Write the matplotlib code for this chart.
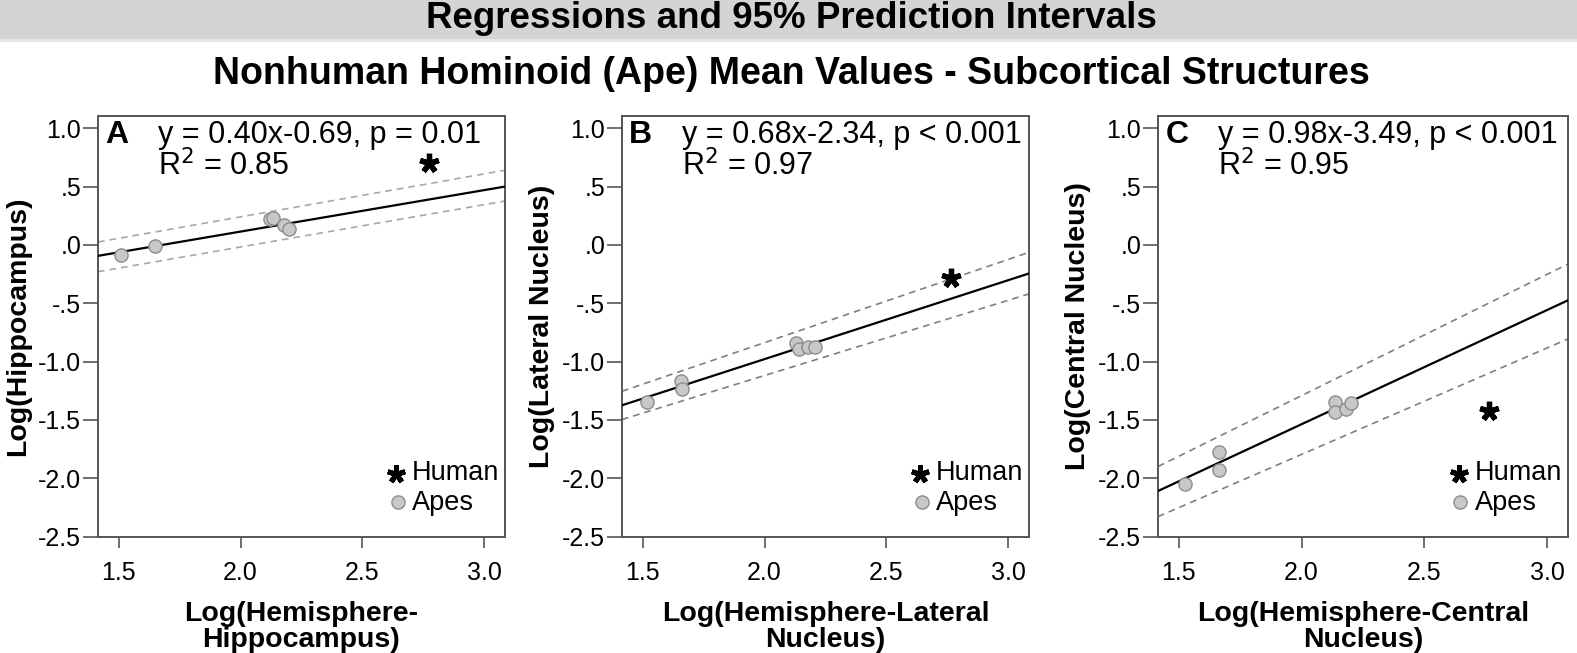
import numpy as np
import matplotlib
matplotlib.use("Agg")
import matplotlib.pyplot as plt
from matplotlib.patches import Rectangle

plt.rcParams['font.family'] = ['Liberation Sans', 'DejaVu Sans']

# x range used for the fitted lines (edges of the plot)
line_x = [1.415, 3.085]

# Panel A - hippocampus
apes_x_a = [1.51, 1.65, 2.12, 2.135, 2.18, 2.20]
apes_y_a = [-0.09, -0.01, 0.22, 0.23, 0.17, 0.14]
human_a = [2.775, 0.70]
fit_a = [-0.094, 0.50]
upper_a = [0.025, 0.64]
lower_a = [-0.23, 0.376]

# Panel B - lateral nucleus
apes_x_b = [1.516, 1.657, 1.66, 2.129, 2.14, 2.18, 2.207]
apes_y_b = [-1.345, -1.164, -1.233, -0.84, -0.89, -0.876, -0.876]
human_b = [2.765, -0.28]
fit_b = [-1.375, -0.245]
upper_b = [-1.255, -0.064]
lower_b = [-1.497, -0.42]

# Panel C - central nucleus
apes_x_c = [1.524, 1.665, 1.665, 2.136, 2.134, 2.18, 2.20]
apes_y_c = [-2.05, -1.776, -1.927, -1.345, -1.436, -1.41, -1.355]
human_c = [2.763, -1.42]
fit_c = [-2.11, -0.475]
upper_c = [-1.9, -0.164]
lower_c = [-2.33, -0.806]

letters = ['A', 'B', 'C']
equations = ['y = 0.40x-0.69, p = 0.01', 'y = 0.68x-2.34, p < 0.001', 'y = 0.98x-3.49, p < 0.001']
r2_texts = ['R$^2$ = 0.85', 'R$^2$ = 0.97', 'R$^2$ = 0.95']
ylabels = ['Log(Hippocampus)', 'Log(Lateral Nucleus)', 'Log(Central Nucleus)']
xlabels = ['Log(Hemisphere-\nHippocampus)', 'Log(Hemisphere-Lateral\nNucleus)', 'Log(Hemisphere-Central\nNucleus)']

yticks = [1.0, 0.5, 0.0, -0.5, -1.0, -1.5, -2.0, -2.5]
ytick_labels = ['1.0', '.5', '.0', '-.5', '-1.0', '-1.5', '-2.0', '-2.5']
xticks = [1.5, 2.0, 2.5, 3.0]
xtick_labels = ['1.5', '2.0', '2.5', '3.0']

STAR = (5, 2, 0)
APE_FACE = '#c8c8c8'
APE_EDGE = '#8c8c8c'


def plot_panel(ax, i, ax_x, ax_y, human, fit, upper, lower, dash_color):
    ax.plot(line_x, upper, color=dash_color, lw=1.2, ls=(0, (4, 3)), zorder=2)
    ax.plot(line_x, lower, color=dash_color, lw=1.2, ls=(0, (4, 3)), zorder=2)
    ax.plot(line_x, fit, color='black', lw=1.6, zorder=3)
    ax.scatter(ax_x, ax_y, s=90, facecolor=APE_FACE, edgecolor=APE_EDGE, lw=1.0, zorder=4)
    ax.plot([human[0]], [human[1]], marker=STAR, ms=14, mew=3.8, color='black', ls='none', zorder=5)

    ax.set_xlim(1.415, 3.085)
    ax.set_ylim(-2.5, 1.105)
    ax.set_yticks(yticks)
    ax.set_yticklabels(ytick_labels)
    ax.set_xticks(xticks)
    ax.set_xticklabels(xtick_labels)
    ax.tick_params(axis='both', labelsize=18, colors='#555555', labelcolor='black', width=1.2)
    ax.tick_params(axis='y', length=11, pad=1)
    ax.tick_params(axis='x', length=8, pad=10)
    for sp in ax.spines.values():
        sp.set_color('#555555')
        sp.set_linewidth(1.4)

    ax.set_ylabel(ylabels[i], fontsize=20.5, fontweight='bold', labelpad=5)
    ax.set_xlabel(xlabels[i], fontsize=20.5, fontweight='bold', labelpad=11, linespacing=1.0)

    ax.text(0.018, 0.954, letters[i], transform=ax.transAxes, fontsize=23, fontweight='bold',
            ha='left', va='center')
    ax.text(0.147, 0.954, equations[i], transform=ax.transAxes, fontsize=22, ha='left', va='center')
    ax.text(0.147, 0.880, r2_texts[i], transform=ax.transAxes, fontsize=22, ha='left', va='center')

    # legend in the lower right
    ax.plot([0.733], [0.148], marker=STAR, ms=13, mew=3.6, color='black', transform=ax.transAxes,
            ls='none', clip_on=False)
    ax.text(0.772, 0.152, 'Human', transform=ax.transAxes, fontsize=19.5, ha='left', va='center')
    ax.scatter([0.737], [0.082], s=90, facecolor=APE_FACE, edgecolor=APE_EDGE, lw=1.0,
               transform=ax.transAxes)
    ax.text(0.772, 0.080, 'Apes', transform=ax.transAxes, fontsize=19.5, ha='left', va='center')


def main():
    fig = plt.figure(figsize=(15.77, 6.53), dpi=100)

    # grey header band
    fig.patches.append(Rectangle((0, 1 - 39 / 653), 1, 39 / 653, transform=fig.transFigure,
                                 facecolor='#d4d4d4', edgecolor='none', zorder=0))
    fig.patches.append(Rectangle((0, 1 - 42 / 653), 1, 3 / 653, transform=fig.transFigure,
                                 facecolor='#e6e6e6', edgecolor='none', zorder=0))
    fig.text(0.502, 1 - 19 / 653, 'Regressions and 95% Prediction Intervals', fontsize=26.5,
             fontweight='bold', ha='center', va='center')
    fig.text(0.502, 1 - 74 / 653, 'Nonhuman Hominoid (Ape) Mean Values - Subcortical Structures',
             fontsize=27, fontweight='bold', ha='center', va='center')

    bottom = 1 - 536.5 / 653
    height = 420.5 / 653
    axA = fig.add_axes([98 / 1577, bottom, 407 / 1577, height])
    axB = fig.add_axes([622 / 1577, bottom, 407 / 1577, height])
    axC = fig.add_axes([1158 / 1577, bottom, 410 / 1577, height])

    plot_panel(axA, 0, apes_x_a, apes_y_a, human_a, fit_a, upper_a, lower_a, '#a8a8a8')
    plot_panel(axB, 1, apes_x_b, apes_y_b, human_b, fit_b, upper_b, lower_b, '#808080')
    plot_panel(axC, 2, apes_x_c, apes_y_c, human_c, fit_c, upper_c, lower_c, '#808080')

    fig.savefig('out.png', dpi=100)


if __name__ == "__main__":
    main()
